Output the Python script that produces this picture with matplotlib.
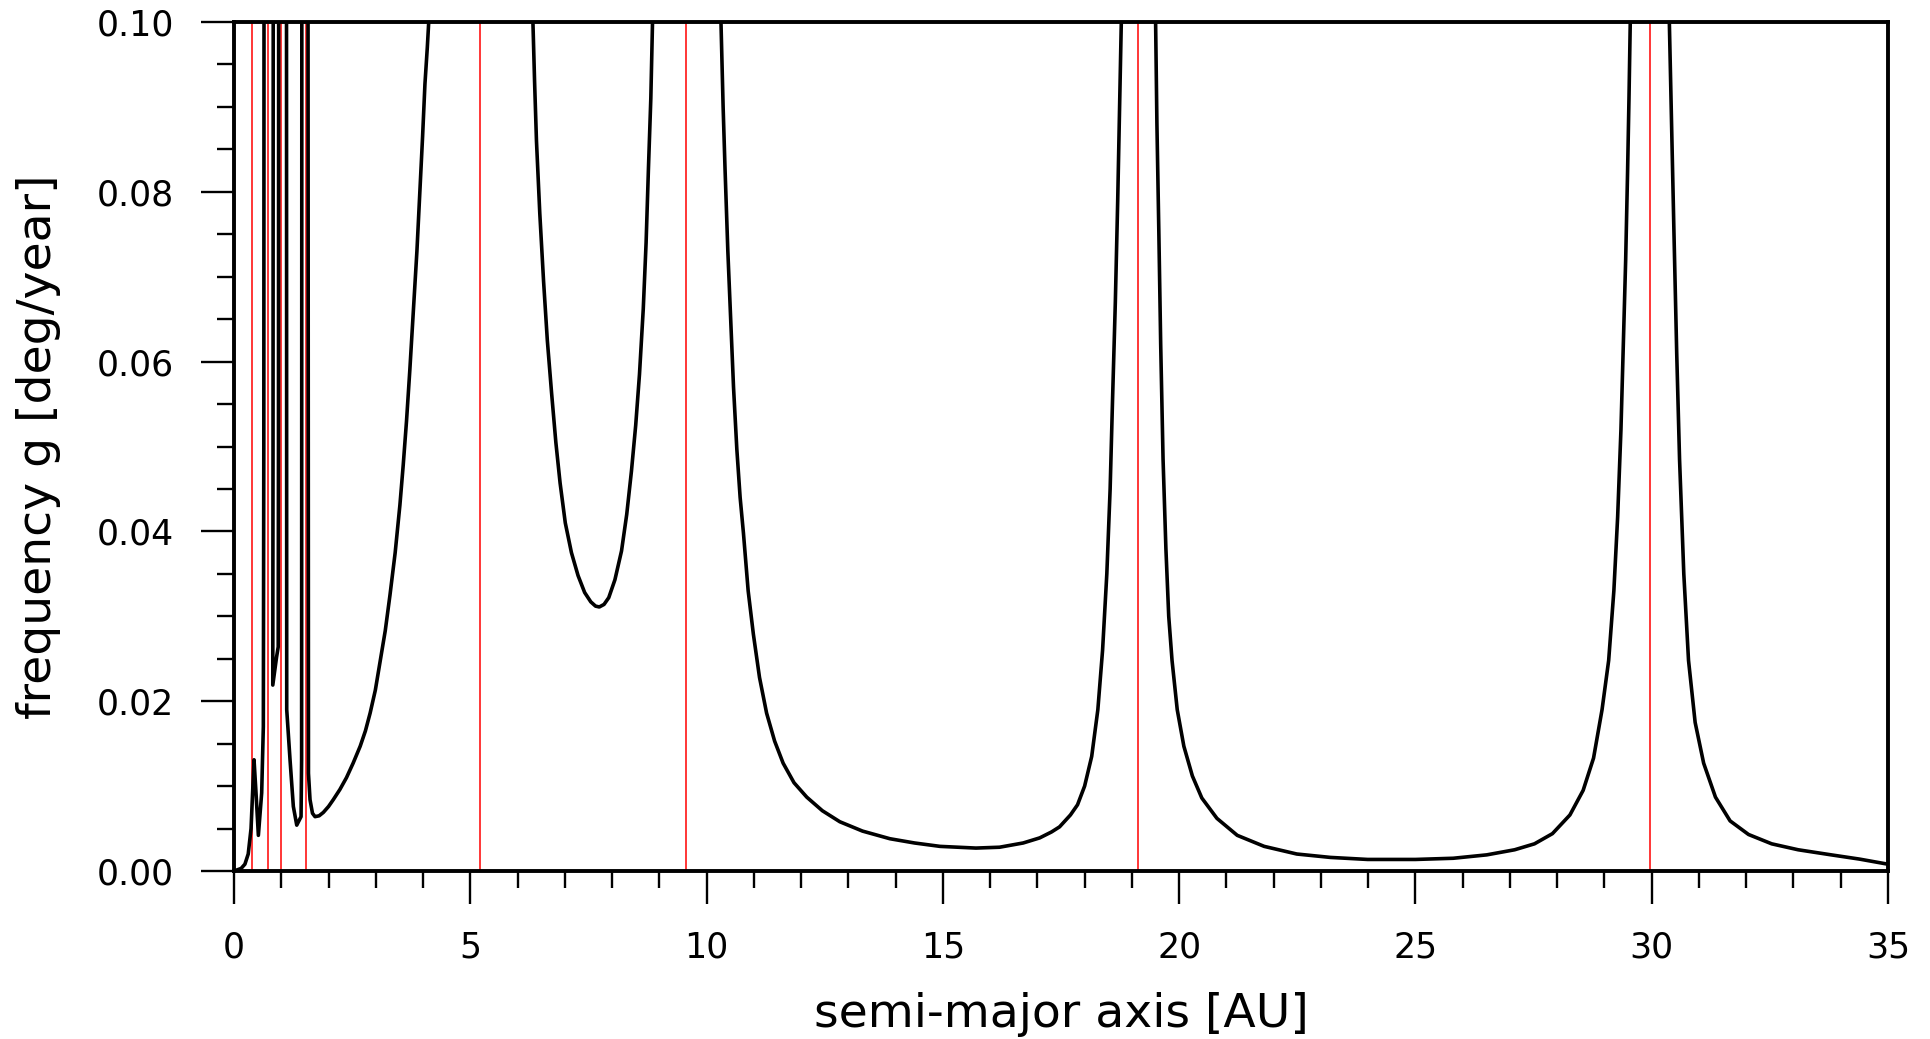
import numpy as np
import matplotlib
matplotlib.use("Agg")
from matplotlib import pyplot as plt
from matplotlib.ticker import MultipleLocator, FormatStrFormatter

# secular frequency g, NaN splits the branches that leave the top
a_au = [0.00, 0.15, 0.23, 0.30, 0.36, 0.40, 0.423, 0.465, 0.515, 0.585, 0.62, 0.63, 0.635, np.nan,
        0.83, 0.825, 0.82, 0.90, 0.935, 0.94, 0.945, np.nan,
        1.11, 1.115, 1.185, 1.255, 1.327, 1.418, 1.43, 1.435, np.nan,
        1.565, 1.575, 1.608, 1.66, 1.714, 1.80, 1.89, 2.00, 2.10, 2.24, 2.38, 2.52, 2.67, 2.78, 2.88,
        2.99, 3.09, 3.20, 3.30, 3.41, 3.51, 3.58, 3.65, 3.72, 3.79, 3.87, 3.94, 3.99, 4.04, 4.09, 4.13,
        np.nan,
        6.32, 6.36, 6.40, 6.47, 6.55, 6.63, 6.72, 6.81, 6.90, 7.01, 7.14, 7.28, 7.42, 7.55, 7.65, 7.73,
        7.83, 7.93, 8.06, 8.20, 8.31, 8.41, 8.50, 8.58, 8.66, 8.72, 8.77, 8.82, 8.86, np.nan,
        10.30, 10.35, 10.39, 10.45, 10.50, 10.57, 10.64, 10.71, 10.78, 10.88, 10.99, 11.12, 11.27,
        11.44, 11.62, 11.85, 12.12, 12.45, 12.82, 13.30, 13.88, 14.40, 14.94, 15.70, 16.20, 16.70,
        17.05, 17.30, 17.47, 17.70, 17.85, 18.00, 18.15, 18.28, 18.38, 18.47, 18.54, 18.59, 18.65,
        18.70, 18.74, 18.78, np.nan,
        19.50, 19.53, 19.57, 19.61, 19.66, 19.72, 19.78, 19.85, 19.96, 20.10, 20.28, 20.48, 20.80,
        21.23, 21.80, 22.49, 23.20, 23.99, 25.00, 25.80, 26.51, 27.10, 27.52, 27.90, 28.27, 28.55,
        28.77, 28.95, 29.09, 29.20, 29.28, 29.35, 29.40, 29.45, 29.49, 29.52, 29.55, np.nan,
        30.37, 30.42, 30.47, 30.53, 30.59, 30.68, 30.78, 30.92, 31.10, 31.35, 31.66, 32.05, 32.54,
        33.10, 33.80, 34.40, 35.00]
g_freq = [0.0, 0.0003, 0.0008, 0.0020, 0.0050, 0.0100, 0.0131, 0.0092, 0.0042, 0.0092, 0.0170, 0.05, 0.11,
          np.nan,
          0.11, 0.05, 0.0219, 0.0252, 0.0264, 0.05, 0.11, np.nan,
          0.11, 0.0190, 0.0131, 0.0076, 0.0054, 0.0064, 0.0131, 0.11, np.nan,
          0.11, 0.0115, 0.0084, 0.0068, 0.0064, 0.0065, 0.0069, 0.0076, 0.0084, 0.0096, 0.0110, 0.0127,
          0.0147, 0.0165, 0.0186, 0.0213, 0.0246, 0.0283, 0.0325, 0.0375, 0.0431, 0.0478, 0.0530,
          0.0590, 0.0656, 0.0730, 0.0808, 0.0865, 0.0927, 0.0970, 0.101, np.nan,
          0.101, 0.0930, 0.0860, 0.0775, 0.0695, 0.0625, 0.0563, 0.0505, 0.0457, 0.0410, 0.0375, 0.0348,
          0.0328, 0.0317, 0.0312, 0.0311, 0.0314, 0.0322, 0.0343, 0.0377, 0.0420, 0.0471, 0.0525,
          0.0585, 0.0662, 0.0740, 0.0828, 0.0910, 0.101, np.nan,
          0.101, 0.0900, 0.0828, 0.0730, 0.0662, 0.0570, 0.0497, 0.0440, 0.0398, 0.0330, 0.0279, 0.0228,
          0.0186, 0.0153, 0.0127, 0.0104, 0.0087, 0.0071, 0.0058, 0.0047, 0.0038, 0.0033, 0.0029,
          0.0027, 0.0028, 0.0033, 0.0039, 0.0046, 0.0052, 0.0066, 0.0078, 0.0100, 0.0135, 0.0190,
          0.0260, 0.0350, 0.0450, 0.0553, 0.0670, 0.0789, 0.0900, 0.101, np.nan,
          0.101, 0.0880, 0.0755, 0.0620, 0.0485, 0.0380, 0.0300, 0.0248, 0.0190, 0.0147, 0.0112, 0.0086,
          0.0062, 0.0042, 0.0029, 0.0020, 0.0016, 0.00136, 0.00136, 0.0015, 0.0019, 0.0025, 0.0032,
          0.0044, 0.0066, 0.0095, 0.0133, 0.0190, 0.0248, 0.0330, 0.0417, 0.0520, 0.0620, 0.0720,
          0.0823, 0.0910, 0.101, np.nan,
          0.101, 0.0880, 0.0756, 0.0610, 0.0485, 0.0350, 0.0248, 0.0175, 0.0127, 0.0087, 0.0059, 0.0043,
          0.0032, 0.0025, 0.0019, 0.0014, 0.0008]

# planet semi-major axes (red lines)
planet_a = [0.39, 0.72, 1.00, 1.52, 5.20, 9.56, 19.14, 29.97]

fig = plt.figure(figsize=(19.31, 10.39), dpi=100)
ax = fig.add_axes([0.1212, 0.1617, 0.8565, 0.8171])

for pa in planet_a:
    ax.axvline(pa, color='red', linewidth=1.1, zorder=1)
ax.plot(a_au, g_freq, color='black', linewidth=2.6, zorder=2)

ax.set_xlim(0, 35)
ax.set_ylim(0, 0.10)
ax.xaxis.set_major_locator(MultipleLocator(5))
ax.xaxis.set_minor_locator(MultipleLocator(1))
ax.yaxis.set_major_locator(MultipleLocator(0.02))
ax.yaxis.set_minor_locator(MultipleLocator(0.005))
ax.yaxis.set_major_formatter(FormatStrFormatter('%.2f'))

ax.tick_params(which='major', direction='out', length=24, width=1.7, labelsize=25, pad=19)
ax.tick_params(which='minor', direction='out', length=12, width=1.7)
ax.tick_params(top=False, right=False, which='both')
for sp in ax.spines.values():
    sp.set_linewidth(2.8)
    sp.set_zorder(3)

ax.set_xlabel('semi-major axis [AU]', fontsize=34, labelpad=20)
ax.set_ylabel('frequency g [deg/year]', fontsize=34, labelpad=26)

fig.savefig('out.png', dpi=100)
